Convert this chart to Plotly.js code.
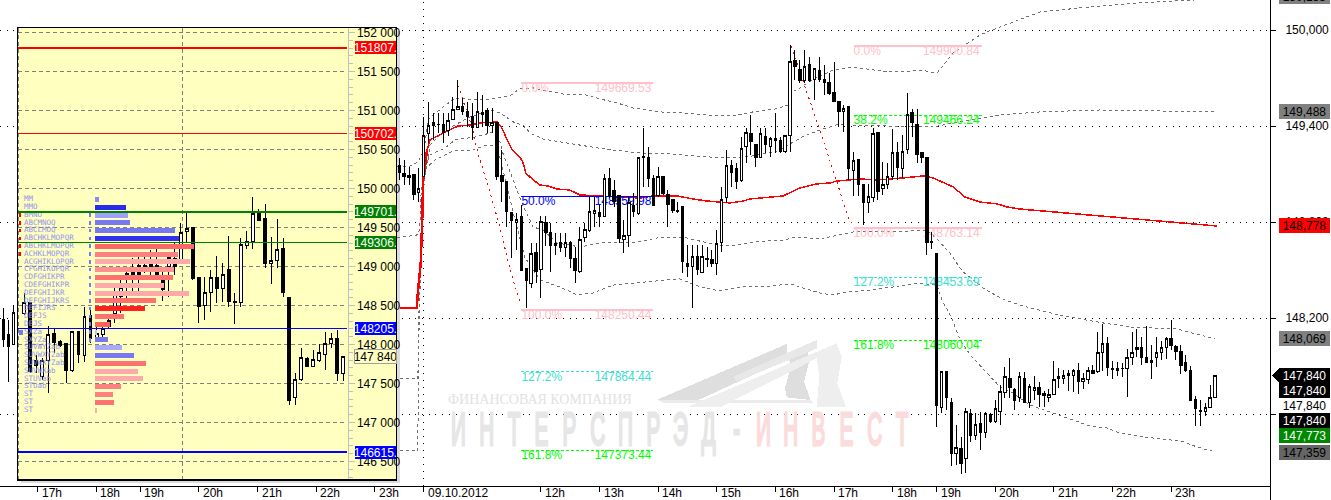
<!DOCTYPE html>
<html><head><meta charset="utf-8">
<script src="https://cdn.plot.ly/plotly-3.0.1.min.js"></script>
<style>html,body{margin:0;padding:0;background:#fff;overflow:hidden}#c{width:1331px;height:500px}
#c path,#c line,#c rect{shape-rendering:crispEdges !important}</style>
</head><body><div id="c"></div>
<script>
// ---------- main chart: five-minute candles ----------
const mainHigh=[148260,148187,148281,148462,149200,
149188,149146,149094,149135,149458,149548,149479,149479,149479,149479,
149583,149688,149573,149552,149542,149615,149594,149510,149510,149423,
149250,149056,148858,148854,148906,148510,148667,148667,148837,148837,
148792,148729,148733,148729,148683,148646,148771,148792,148958,148958,
148906,149100,149135,149062,148963,148812,148958,148979,149208,149385,
149271,149094,149146,149087,149000,148938,148927,148896,148656,148656,
148656,148656,148646,148625,148750,149021,
149250,149188,149167,149333,149385,149469,149285,149385,149385,149333,
149479,149333,149344,149906,149875,149812,149875,149833,149760,149833,
149781,149729,149798,149556,149531,149525,149240,149188,149037,149037,
149385,149362,149177,149167,149381,149302,149344,149604,149506,149504,
149235,149204,148740,
148604,147865,147865,147698,147531,147458,147635,147631,147604,147615,
147615,147604,147687,147781,147896,147948,147760,147865,147865,147787,
147837,147802,147744,147754,147931,147885,147875,147875,147879,147917,
147854,147896,147906,148110,148162,148079,147933,147927,147921,148004,
148110,148131,148083,148150,148031,148079,148056,148083,148187,148031,
148031,147969,147900,147715,147687,147667,147781,147844];
const mainTop=[148192,148094,148233,148448,149156,
149104,149088,149094,149010,149340,149406,149423,149412,149410,149433,
149504,149521,149525,149490,149458,149492,149487,149496,149423,149423,
149088,149056,148858,148817,148837,148510,148604,148608,148802,148796,
148735,148667,148669,148675,148669,148573,148692,148754,148867,148869,
148858,149073,149073,148994,148963,148715,148921,148906,149204,149212,
149204,149073,149083,149087,148975,148938,148873,148896,148542,148583,
148583,148583,148573,148567,148667,148942,
149156,149156,149135,149260,149360,149354,149285,149354,149337,149323,
149323,149308,149340,149804,149812,149754,149771,149785,149760,149744,
149692,149673,149612,149556,149510,149525,149183,149188,149037,148962,
149354,149362,149035,149087,149235,149235,149240,149469,149485,149412,
149235,149204,148677,
148604,147865,147865,147673,147392,147385,147615,147604,147535,147542,
147604,147594,147635,147740,147833,147823,147754,147833,147823,147771,
147767,147767,147727,147723,147817,147837,147842,147854,147873,147869,
147823,147873,147873,147985,148042,148042,147885,147885,147887,147954,
147985,148017,148017,147954,147937,147985,148017,148073,148073,148025,
147992,147923,147873,147692,147623,147642,147704,147842];
const mainBottom=[148067,148021,148037,148271,149112,
149083,149079,148969,148983,149083,149354,149402,149408,149358,149375,
149442,149504,149490,149458,149392,149392,149471,149402,149404,149083,
149052,148865,148812,148800,148500,148433,148417,148490,148504,148733,
148652,148652,148638,148640,148573,148500,148490,148704,148750,148852,
148837,148837,148963,148927,148698,148692,148715,148865,148854,149204,
149073,148902,148963,148979,148912,148871,148865,148552,148521,148521,
148504,148485,148567,148542,148542,148673,
148954,149108,149052,149058,149271,149302,149204,149204,149287,149271,
149308,149240,149240,149340,149775,149683,149683,149683,149688,149692,
149671,149604,149552,149490,149490,149135,149121,149037,148921,148921,
148952,148990,149008,149035,149083,149140,149137,149254,149421,149223,
149204,148671,148671,
147656,147642,147702,147354,147354,147292,147323,147465,147465,147483,
147483,147552,147552,147615,147733,147765,147687,147702,147673,147671,
147750,147719,147715,147704,147721,147821,147821,147840,147840,147802,
147802,147817,147852,147865,147985,147890,147881,147871,147883,147885,
147954,148004,147952,147921,147923,147954,147985,148017,148031,147992,
147902,147869,147687,147633,147617,147617,147642,147704];
const mainLow=[148021,147802,148031,148229,149063,
149031,149031,148938,148927,149083,149292,149312,149354,149292,149338,
149438,149500,149469,149396,149312,149392,149396,149354,149354,149062,
148927,148771,148573,148625,148500,148260,148385,148417,148323,148650,
148490,148594,148615,148583,148510,148421,148479,148677,148740,148771,
148771,148833,148948,148896,148667,148608,148646,148833,148844,149021,
149017,148900,148958,148969,148771,148858,148854,148479,148458,148260,
148469,148483,148521,148521,148469,148615,
148917,149017,149004,149052,149167,149219,149146,149198,149229,149208,
149229,149229,149233,149240,149688,149667,149667,149677,149562,149677,
149594,149594,149552,149396,149365,149062,148965,148965,148781,148858,
148927,148937,148969,149004,149062,149062,149073,149225,149333,149171,
149167,148594,148629,
147521,147608,147625,147277,147281,147223,147229,147427,147437,147375,
147448,147546,147542,147531,147698,147698,147625,147677,147667,147635,
147687,147646,147646,147677,147719,147760,147787,147744,147740,147725,
147756,147787,147850,147858,147871,147837,147819,147840,147833,147708,
147906,147958,147906,147921,147821,147896,147937,147942,148000,147937,
147848,147865,147683,147527,147527,147590,147640,147702];
const mainUp=[0,0,1,0,0,
0,0,0,1,1,1,0,0,0,1,
1,1,0,0,0,1,0,0,1,0,
0,0,0,1,0,0,1,0,1,0,
0,1,0,1,0,0,1,1,1,1,
0,1,0,0,0,1,1,0,1,0,
0,0,1,0,0,0,0,0,0,1,
0,1,0,0,1,1,
1,0,0,1,1,0,0,1,0,1,
0,0,1,1,0,0,1,0,1,0,
0,0,0,0,1,0,1,0,0,1,
1,0,1,1,1,0,1,1,0,0,
0,0,1,
0,1,0,0,1,0,1,0,1,0,
1,0,1,1,1,0,0,1,0,1,
1,0,0,1,1,0,1,0,1,0,
1,1,0,1,1,0,0,1,1,1,
1,1,0,0,1,1,1,1,0,0,
0,0,0,0,0,1,1,1];
const mainIdx=[-86,-85,-84,-83];
for(let i=-5;i<=162;i++)mainIdx.push(i);

// ---------- main chart: bands, average line ----------
const band1X=[-5.5,-2.8,-1.2,0.1,0.9,1.9,6.4,11.5,13.6,17.7,19.5,22.4,25.2,28.5,32.6,36.1,39.6,42.8,48.4,53.1,60.7,64.1,67.4,71.9,74.6,75.4,77,80.1,82.1,83.8,87.9,94.8,98.1,101.6,105.1,108.4,113.9,115.3,126.2,138.4,146.6,157.9,162.2];
const band1Y=[149144,149150,149175,149250,149438,149469,149575,149563,149569,149588,149631,149638,149619,149600,149600,149569,149544,149513,149488,149481,149463,149469,149488,149506,149531,149613,149638,149700,149725,149750,149769,149738,149738,149750,149731,149856,149969,149988,150113,150150,150169,150188,150190];
const band2X=[-4.9,-1.2,-0.8,-0.1,1.3,4.4,9.5,13,14,15.6,18.7,20.3,21.8,24.4,27.9,32,35.5,38.8,44.3,48.4,53.1,58.6,62.7,67.4,71.9,74.6,77.4,81.1,85.2,87.9,94.8,104.2,108.4,113.9,118,126.2,138.4,162];
const band2Y=[147819,147819,148313,149000,149281,149375,149456,149488,149500,149481,149419,149406,149356,149319,149300,149281,149263,149250,149231,149231,149219,149206,149200,149213,149238,149281,149331,149375,149413,149406,149400,149394,149419,149450,149469,149488,149500,149488];
const band3X=[-5.5,-1.4,-0.8,-0.6,0.1,1.3,4.4,6.4,10.5,13.6,15,16.2,18.3,20.1,22.4,24.4,27.3,32,36.1,39.6,42.8,47.8,51.9,53.9,60.7,64.1,67.4,74,76,81.1,87.9,96.9,103,105.3,107.7,110.4,114.5,118.4,122.7,126.2,130.9,139.1,144.6,149.3,154.2,158.9,162];
const band3Y=[148700,148719,148750,148956,149125,149219,149263,149313,149331,149356,149375,149231,149063,148919,148769,148750,148669,148644,148669,148675,148669,148700,148706,148700,148650,148656,148675,148688,148706,148694,148738,148738,148750,148688,148606,148488,148388,148319,148275,148250,148213,148169,148144,148138,148131,148094,148069];
const band4X=[-4.9,-1.2,-1,-0.6,0.1,2.3,6.4,9.9,13,15,18.7,20.7,23.8,27.9,31.4,34.7,38.8,42.8,49.8,52.5,56.6,60.7,64.8,70.9,75,77,81.1,83.8,86.7,91.4,96.1,101,105.1,106.1,108.1,109.8,111.9,115.3,118,120.6,124.1,128.8,132.9,136.4,139.9,141.9,146,150.7,155.2,158.3,162];
const band4Y=[147369,147369,148188,148688,149125,149188,149250,149250,149281,149281,148813,148581,148438,148394,148344,148356,148406,148419,148438,148444,148394,148369,148394,148400,148413,148394,148356,148344,148363,148375,148394,148419,148406,148313,148200,148063,147969,147856,147769,147731,147656,147606,147563,147525,147513,147488,147463,147444,147431,147394,147363];
const avgX=[-4.9,-1.4,-1.2,-0.6,-0.3,-0.1,0.7,1.3,3.3,5.4,7,9.5,11.5,15,16,17.1,18.1,19.7,20.3,20.9,22.2,23.8,25.4,27.3,29.9,32,36.1,44.3,46.9,51.9,55.1,58,62.7,65.4,66.8,73.6,77,80.5,83.2,84.6,89.3,92.8,98.1,102.2,104.3,108.4,110.8,113.9,117.4,119.4,122.1,138.4,150.7,162.4];
const avgY=[148263,148263,148356,148544,148813,149063,149250,149313,149344,149375,149400,149406,149419,149425,149388,149313,149250,149206,149175,149106,149069,149031,149025,149006,149000,148969,148963,148950,148963,148963,148944,148931,148919,148931,148944,148963,149013,149038,149044,149056,149069,149063,149075,149088,149075,149019,148956,148925,148913,148894,148881,148838,148806,148775];
const avgSteepCount=7;
const swing1X=[6.8,8,9.9,11.1,13,15.6,17.7,19.9];
const swing1Y=[149688,149563,149394,149231,149044,148769,148500,148281];
const swing2X=[75.2,77.6,79.1,81.1,83.8,86.9,87.9];
const swing2Y=[149900,149688,149563,149375,149125,148831,148781];

// ---------- Fibonacci levels ----------
const fibSpanA=[20,47], fibSpanB=[88,114.3];
const fibValColA=35, fibValColB=102.2;
const fibA=[["0.0%",149669.53,"149669.53","#ffc0cb",2,"solid"],["50.0%",148959.98,"148959.98","#0000ff",1,"solid"],["100.0%",148250.44,"148250.44","#ffc0cb",2,"solid"],["127.2%",147864.44,"147864.44","#40e0d0",1,"3px,2px"],["161.8%",147373.44,"147373.44","#00ff00",1,"3px,2px"]];
const fibB=[["0.0%",149900.84,"149900.84","#ffc0cb",2,"solid"],["38.2%",149466.24,"149466.24","#00ff00",1,"3px,2px"],["100.0%",148763.14,"148763.14","#ffc0cb",2,"solid"],["127.2%",148453.69,"148453.69","#40e0d0",1,"3px,2px"],["161.8%",148060.04,"148060.04","#00ff00",1,"3px,2px"]];

// ---------- inset: thirty-minute candles ----------
const insHigh=[148656,148536,147865,147823,148241,148207,148058,148015,148165,148169,148485,148485,148293,148229,148365,148720,148848,148955,149105,149169,149147,149212,149233,148955,149135,149297,149553,149682,149494,148861,148861,148955,149135,149049,149391,148656,149361,149459,149887,149733,149801,149382,149605,149361,148605,147630,147951,147844,147930,148006,148156,148143,148186,147844];
const insTop=[148536,148536,147801,147801,148130,148143,148041,148015,148165,148169,148357,148370,148135,148207,148314,148635,148733,148912,148955,149019,149019,149028,149019,148827,149118,149105,149438,149489,149494,148861,148665,148861,148861,148900,148968,148545,149276,149318,149682,149682,149618,149079,149220,149233,148605,147553,147836,147823,147810,147895,148015,148079,148079,147844];
const insBottom=[148400,147652,147737,147588,147801,148023,147985,147665,147665,147874,147857,148079,148092,148122,148229,148400,148613,148827,148891,148891,148964,148998,148891,148699,149006,149006,149083,149447,148848,148485,148502,148665,148716,148716,148549,148536,148536,149271,149318,149596,149036,149041,149079,148665,147288,147323,147545,147716,147716,147801,147870,148015,147630,147630];
const insLow=[148378,147630,147630,147545,147374,147887,147972,147502,147652,147767,147780,148015,148036,148100,148207,148271,148400,148528,148677,148656,148912,148827,148827,148562,148613,148891,149062,149318,148827,148271,148314,148421,148528,148549,148485,148263,148476,149224,149224,149596,148976,148776,148976,148605,147224,147224,147536,147707,147707,147780,147673,147951,147532,147532];
const insUp=[1,0,0,1,1,0,0,0,1,0,1,0,1,1,1,1,1,0,0,0,1,1,0,0,1,0,1,1,0,0,1,1,0,1,0,0,1,1,1,0,0,1,1,0,0,1,1,0,1,1,1,1,0,1];
const insIdx=insUp.map((_,i)=>i+1);

// ---------- inset: market profile ----------
const profPrice=[149860,149760,149660,149560,149460,149360,149260,149160,149060,148960,148860,148760,148660,148560,148460,148360,148260,148160,148060,147960,147860,147760,147660,147560,147460,147360,147260,147160];
const profLetters=["MM","MMO","BMNO","ABCMNOQ","ABCLMOQ","ABCHKLMOPQR","ABCHKLMOPQR","ACHKLMOPQR","ACGHIKLOPQR","CFGHIKOPQR","CDFGHIKPR","CDEFGHIKPR","DEFGHIJKR","DEFGHIJKRS","DEFIJRS","DEFJS","DEJS","SXZa","SXYZa","SUVWYZab","SUVWXYZab","SUVWXYZab","SUVWXab","STUVab","STUab","ST","ST","ST"];
const profVolume=[4,31,33,35,80,84,99,83,95,79,78,69,94,61,50,29,15,2,13,27,39,51,43,48,26,18,19,2];
const profColor=["#8888ff","#2a2aee","#a0a0ff","#7878f0","#7878f0","#3030ee","#ff6666","#ff8080","#ffaaaa","#ff9090","#ff7070","#ffaaaa","#ffaaaa","#ff7070","#ff2020","#ff7070","#ff6060","#c0c0ff","#7878f0","#a8a8ff","#7878f0","#ff7070","#ffaaaa","#ffaaaa","#ff8080","#ff8080","#ff7070","#ffaaaa"];
const valueAreaRows=[149660,149560,149460,149360,149260,149160,149060,148960,148860,148760,148660,148560,148460,148360,148260,148160,148060];
const poorRows=[149660,149560,149460,149360,149260,149160];
const midRow=[148160];
const insLevels=[[151807.7,"151807.","#ff0000",2],[150702.7,"150702.","#ff0000",1],[149701.5,"149701.","#008000",2],[149306.0,"149306.","#008000",1],[148205.7,"148205.","#0000ff",1],[146615.7,"146615.","#0000ff",2]];
const insTickVals=[146500,147000,147500,148000,148500,149000,149500,150000,150500,151000,151500,152000];
const insTickText=["146 500","147 000","147 500","148 000","148 500","149 000","149 500","150 000","150 500","151 000","151 500","152 000"];
const insLast=147840;

// ---------- axis labels ----------
const priceTicks=[150000,149400,148800,148200,147600];
const priceTickText=["150,000","149,400","148,800","148,200",""];
const timeTicks=[-79,-67,-58,-46,-34,-22,-10,0,24,36,48,60,72,84,96,105,117,129,141,153];
const timeText=["17h","18h","19h","20h","21h","22h","23h","09.10.2012","12h","13h","14h","15h","16h","17h","18h","19h","20h","21h","22h","23h"];
const sideLabels=[["150,188",-3,"#808080","#000"],["149,488",112,"#808080","#000"],["148,778",225.5,"#ff0000","#000"],["148,069",338.5,"#808080","#000"],["147,840",375.5,"#000","#fff"],["147,840",390.5,"#000","#fff"],["147,840",405.5,"#fff","#000"],["147,840",420.5,"#000","#fff"],["147,773",435.5,"#008800","#fff"],["147,359",452.5,"#666666","#000"]];
const wmGrey=["И","Н","Т","Е","Р","С","П","Р","Э","Д","-"], wmRed=["И","Н","В","Е","С","Т"];

// ---------- helpers ----------
const W=1331,H=500;
const px=x=>x/W, py=y=>1-y/H;
const FONT="Liberation Sans";
const opens=(t,b,u)=>u.map((v,i)=>v?b[i]:t[i]);
const closes=(t,b,u)=>u.map((v,i)=>v?t[i]:b[i]);
const poly=pts=>"M"+pts.map(p=>px(p[0])+","+py(p[1])).join("L")+"Z";
const z7=a=>a.map(p=>[400+p[0]/3,320+p[1]/3]);

const traces=[];
const gray=(x,y)=>traces.push({type:"scatter",mode:"lines",x,y,xaxis:"x",yaxis:"y",hoverinfo:"skip",line:{color:"#707070",width:1,dash:"3px,3px"}});
gray(band1X,band1Y);gray(band2X,band2Y);gray(band3X,band3Y);gray(band4X,band4Y);
traces.push({type:"scatter",mode:"lines",x:avgX,y:avgY,xaxis:"x",yaxis:"y",hoverinfo:"skip",line:{color:"#ff0000",width:1.5}});
traces.push({type:"scatter",mode:"lines",x:avgX.slice(0,avgSteepCount),y:avgY.slice(0,avgSteepCount),xaxis:"x",yaxis:"y",hoverinfo:"skip",line:{color:"#ff0000",width:2.5}});
[[swing1X,swing1Y],[swing2X,swing2Y]].forEach(s=>traces.push({type:"scatter",mode:"lines",x:s[0],y:s[1],xaxis:"x",yaxis:"y",hoverinfo:"skip",line:{color:"#ff0000",width:1,dash:"2px,4px"}}));
function fib(rows,span,valCol){rows.forEach(r=>{
  traces.push({type:"scatter",mode:"lines",x:span,y:[r[1],r[1]],xaxis:"x",yaxis:"y",hoverinfo:"skip",line:{color:r[3],width:r[4],dash:r[5]}});
  traces.push({type:"scatter",mode:"text",x:[span[0],valCol],y:[r[1],r[1]],text:[r[0],r[2]],textposition:"bottom right",xaxis:"x",yaxis:"y",hoverinfo:"skip",textfont:{family:FONT,size:12,color:r[3]}});
});}
fib(fibA,fibSpanA,fibValColA);fib(fibB,fibSpanB,fibValColB);
const candle=(x,o,h,l,c,xa,ya)=>({type:"candlestick",x,open:o,high:h,low:l,close:c,xaxis:xa,yaxis:ya,hoverinfo:"skip",
  whiskerwidth:0,increasing:{line:{color:"#000",width:1},fillcolor:"#fff"},decreasing:{line:{color:"#000",width:1},fillcolor:"#000"}});
traces.push(candle(mainIdx,opens(mainTop,mainBottom,mainUp),mainHigh,mainLow,closes(mainTop,mainBottom,mainUp),"x","y3"));
traces.push(candle(insIdx,opens(insTop,insBottom,insUp),insHigh,insLow,closes(insTop,insBottom,insUp),"x2","y2"));
traces.push({type:"bar",orientation:"h",x:profVolume,y:profPrice,width:64,xaxis:"x3",yaxis:"y2",hoverinfo:"skip",marker:{color:profColor,line:{width:0}}});
traces.push({type:"scatter",mode:"text",x:profPrice.map(()=>-71),y:profPrice,text:profLetters,textposition:"middle right",xaxis:"x3",yaxis:"y2",hoverinfo:"skip",textfont:{family:"DejaVu Sans Mono",size:7.5,color:"#9494f0"}});
traces.push({type:"scatter",mode:"markers",x:valueAreaRows.map(()=>-5),y:valueAreaRows,xaxis:"x3",yaxis:"y2",hoverinfo:"skip",marker:{symbol:"line-ns",size:2.6,line:{color:"#7878f0",width:2}}});
traces.push({type:"scatter",mode:"markers",x:poorRows.map(()=>-75),y:poorRows,xaxis:"x3",yaxis:"y2",hoverinfo:"skip",marker:{symbol:"line-ns",size:2.6,line:{color:"#ff0000",width:2}}});
traces.push({type:"scatter",mode:"markers",x:midRow.map(()=>-74),y:midRow,xaxis:"x3",yaxis:"y2",hoverinfo:"skip",marker:{symbol:"line-ew",size:2.6,line:{color:"#7878f0",width:5}}});
insLevels.forEach(l=>traces.push({type:"scatter",mode:"lines",x:[-77,252],y:[l[0],l[0]],xaxis:"x3",yaxis:"y2",hoverinfo:"skip",line:{color:l[2],width:l[3]}}));

const ann=[];
timeTicks.forEach((t,i)=>ann.push({xref:"x",yref:"paper",x:t,y:py(493),text:timeText[i],showarrow:false,xanchor:"left",yanchor:"middle",xshift:2,font:{family:FONT,size:12,color:"#000"}}));
sideLabels.forEach(s=>ann.push({xref:"paper",yref:"paper",x:px(1279),y:py(s[1]),text:s[0],showarrow:false,xanchor:"left",yanchor:"middle",width:51,height:15,align:"center",valign:"middle",bgcolor:s[2],borderpad:0,borderwidth:0,font:{family:FONT,size:12,color:s[3]}}));
insLevels.forEach(l=>ann.push({xref:"paper",yref:"y2",x:px(355),y:l[0],text:l[1],showarrow:false,xanchor:"left",yanchor:"middle",width:41,height:13,align:"center",valign:"middle",bgcolor:l[2],borderpad:0,borderwidth:0,font:{family:FONT,size:12,color:"#fff"}}));
ann.push({xref:"paper",yref:"y2",x:px(354),y:insLast,text:"147 840",showarrow:false,xanchor:"left",yanchor:"middle",width:41,height:13,align:"center",valign:"middle",bgcolor:"#ffffc0",bordercolor:"#a0a0a0",borderwidth:1,borderpad:0,font:{family:FONT,size:12,color:"#000"}});
ann.push({xref:"paper",yref:"paper",x:px(540),y:py(399),text:"ФИНАНСОВАЯ КОМПАНИЯ",showarrow:false,xanchor:"center",yanchor:"middle",font:{family:"Liberation Serif",size:14,color:"#e2e2e2"}});
const wmStart=ann.length;
wmGrey.forEach((c,i)=>ann.push({xref:"paper",yref:"paper",x:px(458.5+27.8*i),y:py(429),text:c,showarrow:false,xanchor:"center",yanchor:"middle",font:{family:FONT,size:46,color:"#e6e6e6"}}));
wmRed.forEach((c,i)=>ann.push({xref:"paper",yref:"paper",x:px(763+27.8*i),y:py(429),text:c,showarrow:false,xanchor:"center",yanchor:"middle",font:{family:FONT,size:46,color:"#fbdcdc"}}));

const logo=[
 ["#dedede",[[770,240],[1160,72],[1162,118],[895,240]]],
 ["#dedede",[[1165,105],[1222,82],[1226,130],[1212,185],[1232,240],[1160,232],[1155,205],[1172,140]]],
 ["#ebebeb",[[775,240],[1232,240],[1238,248],[790,248]]],
 ["#eeeeee",[[860,262],[1310,70],[1325,110],[1312,190],[1338,262],[1250,262],[1258,170],[1250,115],[960,262]]],
 ["#e8e8e8",[[1000,170],[1250,60],[1252,85],[1010,185]]]];
const shapes=logo.map(l=>({type:"path",xref:"paper",yref:"paper",path:poly(z7(l[1])),fillcolor:l[0],line:{width:0},layer:"below"}));
shapes.push({type:"line",xref:"x",yref:"paper",x0:0,x1:0,y0:py(486),y1:py(0),line:{color:"#000",width:1,dash:"1px,6px"},layer:"below"});
shapes.push({type:"line",xref:"paper",yref:"paper",x0:px(1270),x1:px(1270),y0:py(486),y1:py(500),line:{color:"#000",width:1}});
shapes.push({type:"rect",xref:"paper",yref:"paper",x0:px(397),x1:px(399.5),y0:py(483),y1:py(31),fillcolor:"#dcdcdc",line:{width:0},layer:"below"});
shapes.push({type:"rect",xref:"paper",yref:"paper",x0:px(21),x1:px(399.5),y0:py(483),y1:py(480.5),fillcolor:"#dcdcdc",line:{width:0},layer:"below"});
shapes.push({type:"rect",xref:"x2",yref:"y2",x0:-2,x1:70,y0:146000,y1:153000,fillcolor:"#ffffc0",line:{width:0},layer:"below"});
insTickVals.forEach(v=>shapes.push({type:"line",xref:"x2",yref:"y2",x0:-0.05,x1:54.7,y0:v,y1:v,line:{color:"#808080",width:1,dash:"4px,3px"},layer:"below"}));
[0,27.37].forEach(v=>shapes.push({type:"line",xref:"x2",yref:"y2",x0:v,x1:v,y0:146262,y1:152057,line:{color:"#808080",width:1,dash:"4px,3px"},layer:"below"}));
shapes.push({type:"rect",xref:"paper",yref:"paper",x0:px(17.5),x1:px(396.5),y0:py(480),y1:py(27.5),line:{color:"#000",width:1.5},fillcolor:"rgba(0,0,0,0)",layer:"above"});
shapes.push({type:"path",xref:"paper",yref:"paper",path:poly([[1272,375.5],[1279,368],[1279,383]]),fillcolor:"#000",line:{width:0},layer:"above"});

const mainRange=[147150,150187.5];
const layout={width:W,height:H,margin:{l:0,r:0,t:0,b:0},paper_bgcolor:"#fff",plot_bgcolor:"#fff",showlegend:false,dragmode:false,
 font:{family:FONT,size:12,color:"#000"},
 xaxis:{domain:[0,1270/W],range:[-86.73,173.25],anchor:"y",tickmode:"array",tickvals:timeTicks,showticklabels:false,ticks:"outside",ticklen:5,tickcolor:"#000",showgrid:false,showline:true,linecolor:"#000",linewidth:1,zeroline:false,rangeslider:{visible:false},fixedrange:true},
 yaxis:{domain:[14/H,1],range:mainRange,anchor:"x",side:"right",tickmode:"array",tickvals:priceTicks,ticktext:priceTickText,ticks:"outside",ticklen:5,tickcolor:"#000",ticklabelstandoff:7,tickfont:{family:FONT,size:12,color:"#000"},showgrid:true,gridcolor:"#000",gridwidth:1,griddash:"1px,5.7px",showline:true,linecolor:"#000",linewidth:1,zeroline:false,fixedrange:true},
 yaxis3:{overlaying:"y",range:mainRange,anchor:"x",visible:false,fixedrange:true},
 xaxis2:{domain:[18/W,396/W],range:[-0.05,62.77],anchor:"y2",visible:false,rangeslider:{visible:false},fixedrange:true},
 yaxis2:{domain:[20/H,472/H],range:[146262.8,152057.7],anchor:"free",position:347.5/W,side:"right",tickmode:"array",tickvals:insTickVals,ticktext:insTickText,ticks:"outside",ticklen:6,tickcolor:"#c0c0c0",tickfont:{family:FONT,size:12,color:"#000"},showgrid:false,showline:true,linecolor:"#c0c0c0",linewidth:1,zeroline:false,fixedrange:true,
   minor:{dtick:100,ticks:"outside",ticklen:4,tickcolor:"#c0c0c0",showgrid:false}},
 xaxis3:{overlaying:"x2",range:[-77,301],anchor:"y2",visible:false,fixedrange:true},
 bargap:0,annotations:ann,shapes:shapes};
Plotly.newPlot("c",traces,layout,{staticPlot:true,displayModeBar:false}).then(gd=>{
  gd.querySelectorAll(".annotation").forEach(g=>{
    const i=+g.getAttribute("data-index");
    if(i>=wmStart){const t=g.querySelector("text");t.style.transformBox="fill-box";t.style.transformOrigin="center";t.style.transform="scaleX(0.45)";t.style.strokeWidth="3px";t.style.stroke=t.style.fill;}
  });
});
</script></body></html>
